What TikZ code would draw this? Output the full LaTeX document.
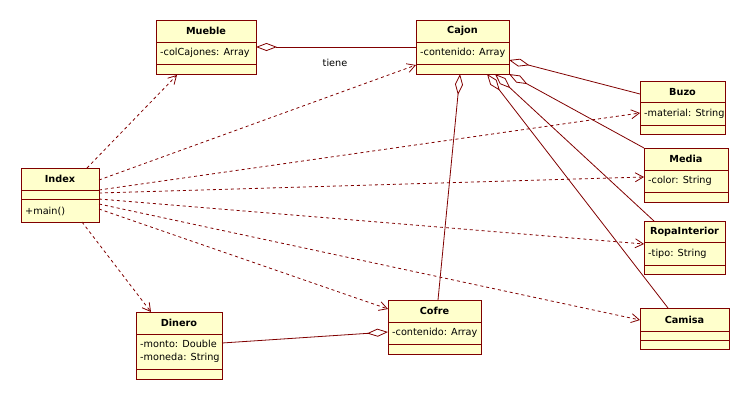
\documentclass[tikz,border=0pt]{standalone}
\usepackage{fontspec}
\setmainfont{DejaVu Sans}
\usetikzlibrary{arrows.meta,calc}
\definecolor{umlfill}{RGB}{255,255,204}
\definecolor{umlline}{RGB}{128,0,0}
\begin{document}
\begin{tikzpicture}[x=1pt,y=-1pt,
  font=\fontsize{9.7}{13}\selectfont,
  classbox/.style={draw=umlline,fill=umlfill,line width=1pt,inner sep=0pt,outer sep=0pt,anchor=north west},
  divider/.style={draw=umlline,line width=1pt},
  title/.style={font=\fontsize{9.7}{13}\selectfont\bfseries,inner sep=0pt},
  attr/.style={anchor=west,inner sep=0pt,align=left},
  agg/.style={draw=umlline,line width=0.8pt,{Diamond[open,length=21pt,width=8pt,line width=0.8pt]}-},
  dep/.style={draw=umlline,line width=0.8pt,dash pattern=on 3pt off 3pt,-{Straight Barb[length=8pt,width=9pt,line width=0.8pt]}},
  lbl/.style={inner sep=0pt}]
\useasboundingbox (0,0) rectangle (750,400);
% Mueble
\node[classbox,minimum width=100pt,minimum height=54pt] (mueble) at (156,20) {};
\draw[divider] (156,42) -- (256,42) (156,64) -- (256,64);
\node[title] (muebleT) at (206,31) {Mueble};
\node[attr] (muebleA) at (160,53) {-colCajones: Array};
% Cajon
\node[classbox,minimum width=93pt,minimum height=54pt] (cajon) at (416,20) {};
\draw[divider] (416,42) -- (509,42) (416,64) -- (509,64);
\node[title] (cajonT) at (462.5,31) {Cajon};
\node[attr] (cajonA) at (420,53) {-contenido: Array};
% Index
\node[classbox,minimum width=78pt,minimum height=54pt] (index) at (21,168) {};
\draw[divider] (21,190) -- (99,190) (21,199) -- (99,199);
\node[title] (indexT) at (60,179) {Index};
\node[attr] (indexO) at (25,211) {+main()};
% Dinero
\node[classbox,minimum width=86pt,minimum height=67pt] (dinero) at (136,312) {};
\draw[divider] (136,334) -- (222,334) (136,369) -- (222,369);
\node[title] (dineroT) at (179,323) {Dinero};
\node[attr] (dineroA) at (140,351.5) {-monto: Double\\-moneda: String};
% Cofre
\node[classbox,minimum width=93pt,minimum height=54pt] (cofre) at (388,300) {};
\draw[divider] (388,322) -- (481,322) (388,344) -- (481,344);
\node[title] (cofreT) at (434.5,311) {Cofre};
\node[attr] (cofreA) at (392,333) {-contenido: Array};
% Buzo
\node[classbox,minimum width=85pt,minimum height=53pt] (buzo) at (640,81) {};
\draw[divider] (640,102) -- (725,102) (640,125) -- (725,125);
\node[title] (buzoT) at (682.5,92) {Buzo};
\node[attr] (buzoA) at (644,113.5) {-material: String};
% Media
\node[classbox,minimum width=84pt,minimum height=54pt] (media) at (644,148) {};
\draw[divider] (644,170) -- (728,170) (644,192) -- (728,192);
\node[title] (mediaT) at (686,159) {Media};
\node[attr] (mediaA) at (648,181) {-color: String};
% RopaInterior
\node[classbox,minimum width=81pt,minimum height=53pt] (ropa) at (644,221) {};
\draw[divider] (644,242) -- (725,242) (644,265) -- (725,265);
\node[title] (ropaT) at (684.5,232) {RopaInterior};
\node[attr] (ropaA) at (648,253.5) {-tipo: String};
% Camisa
\node[classbox,minimum width=89pt,minimum height=41pt] (camisa) at (640,308) {};
\draw[divider] (640,331) -- (729,331) (640,340) -- (729,340);
\node[title] (camisaT) at (684.5,319.5) {Camisa};
% Aggregations
\draw[agg] (mueble.east) -- (cajon.west);
\node[lbl] (tiene) at (335,63) {tiene};
\draw[agg] ($(cajon.south west)+(44,0)$) -- ($(cofre.north west)+(50,0)$);
\draw[agg] ($(cajon.north east)+(0,40)$) -- ($(buzo.north west)+(0,13)$);
\draw[agg] (cajon.south east) -- (media.north west);
\draw[agg] ($(cajon.south west)+(79,0)$) -- ($(ropa.north west)+(10,0)$);
\draw[agg] ($(cajon.south west)+(71,0)$) -- ($(camisa.north west)+(28,0)$);
\draw[agg] ($(cofre.north west)+(0,32)$) -- ($(dinero.north east)+(0,31)$);
% Dependencies
\draw[dep] ($(index.north west)+(66,0)$) -- ($(mueble.south west)+(21,1)$);
\draw[dep] ($(index.north east)+(0,12)$) -- ($(cajon.north west)+(0,45)$);
\draw[dep] ($(index.north east)+(0,22)$) -- ($(buzo.north west)+(0,32)$);
\draw[dep] ($(index.north east)+(0,25)$) -- ($(media.north west)+(0,29)$);
\draw[dep] ($(index.north east)+(0,31)$) -- ($(ropa.north west)+(0,23)$);
\draw[dep] ($(index.north east)+(0,36)$) -- ($(camisa.north west)+(0,12)$);
\draw[dep] ($(index.north east)+(0,41)$) -- ($(cofre.north west)+(0,9)$);
\draw[dep] ($(index.south west)+(61,0)$) -- ($(dinero.north west)+(15,0)$);
\end{tikzpicture}
\end{document}
